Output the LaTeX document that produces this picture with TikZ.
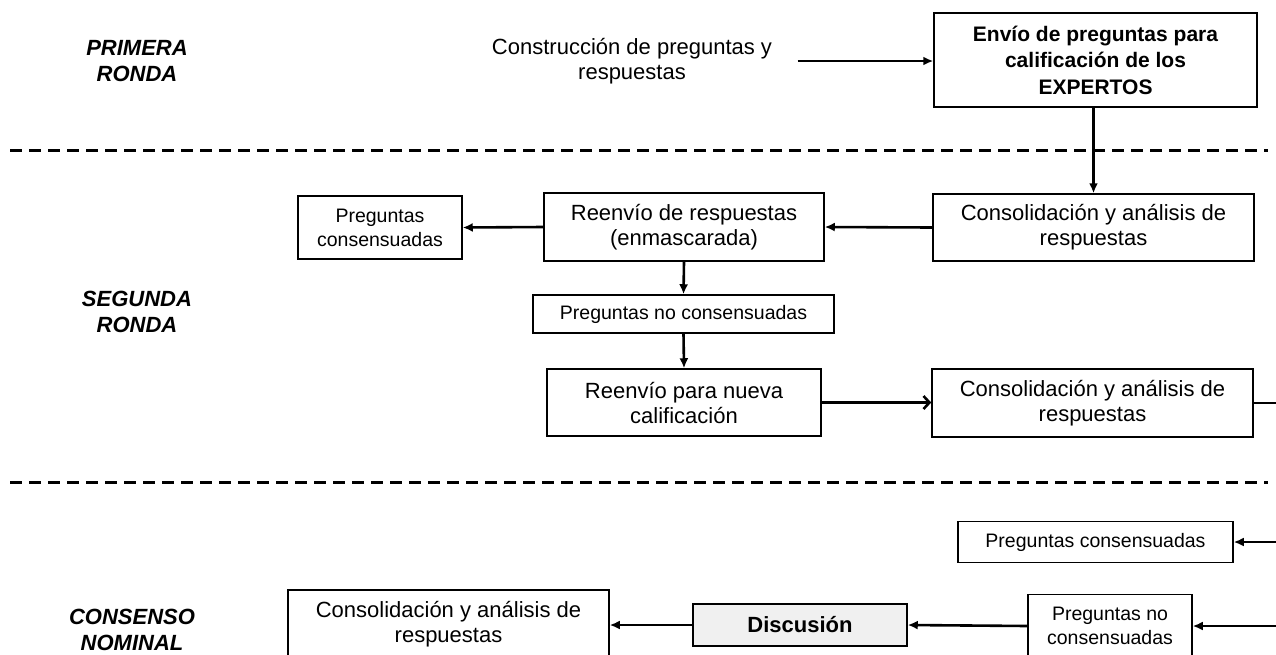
\documentclass[tikz,border=0pt]{standalone}
\usepackage{fontspec}
\setmainfont{Liberation Sans}
\usetikzlibrary{arrows.meta}

\begin{document}
\begin{tikzpicture}[x=1pt, y=-1pt,
    box/.style={draw, line width=1.5pt, align=center, inner sep=0pt, font=\fontsize{22}{25}\selectfont},
    smallbox/.style={box, font=\fontsize{19.5}{24}\selectfont},
    round/.style={align=center, font=\fontsize{22}{26}\selectfont\bfseries\itshape},
    arr/.style={line width=2.6pt, -{Latex[length=10pt, width=9pt]}},
    sep/.style={line width=3pt, dash pattern=on 12pt off 7pt}]
    \clip (0, 0) rectangle (1276, 654);

    \node[round] (r1) at (137, 61) {PRIMERA\\RONDA};
    \node[round] (r2) at (137, 312) {SEGUNDA\\RONDA};
    \node[round] (r3) at (132, 630) {CONSENSO\\NOMINAL};

    \draw[sep] (10, 150) -- (1268, 150);
    \draw[sep] (10, 482) -- (1268, 482);

    \node[align=center, font=\fontsize{22}{25}\selectfont] (constr) at (632, 61) {Construcción de preguntas y\\respuestas};
    \node[box, font=\fontsize{21}{26.5}\selectfont\bfseries, minimum width=323, minimum height=94] (envio) at (1095.5, 60) {Envío de preguntas para\\calificación de los\\EXPERTOS};

    \node[box, minimum width=321, minimum height=67] (cons1) at (1093.5, 227.5) {Consolidación y análisis de\\respuestas};
    \node[box, minimum width=280, minimum height=68] (reenv) at (684, 227) {Reenvío de respuestas\\(enmascarada)};
    \node[smallbox, minimum width=164, minimum height=63] (pcons) at (380, 227.5) {Preguntas\\consensuadas};
    \node[smallbox, minimum width=301, minimum height=38] (pnocons) at (683.5, 314) {Preguntas no consensuadas};
    \node[box, minimum width=274, minimum height=67] (reenv2) at (684, 402.5) {Reenvío para nueva\\calificación};
    \node[box, minimum width=321, minimum height=68] (cons2) at (1092.5, 403) {Consolidación y análisis de\\respuestas};

    \node[smallbox, minimum width=275, minimum height=41] (pcons2) at (1095.5, 542) {Preguntas consensuadas};
    \node[smallbox, minimum width=164, minimum height=63] (pnocons2) at (1110, 626) {Preguntas no\\consensuadas};
    \node[box, fill=gray!12, font=\fontsize{22}{25}\selectfont\bfseries, minimum width=214, minimum height=42] (disc) at (800, 625) {Discusión};
    \node[box, minimum width=321, minimum height=68] (cons3) at (448.5, 624) {Consolidación y análisis de\\respuestas};

    \coordinate (out1) at (1276, 403);
    \coordinate (in1) at (1276, 542);
    \coordinate (in2) at (1276, 626);

    \draw[arr] ([xshift=22pt]constr.east) -- (constr.east -| envio.west);
    \draw[arr] (cons1.north |- envio.south) -- (cons1.north);
    \draw[arr] (cons1.west) -- (reenv.east);
    \draw[arr] (reenv.west) -- (pcons.east);
    \draw[arr] (reenv.south) -- (pnocons.north);
    \draw[arr] (pnocons.south) -- (reenv2.north);
    \draw[arr, -{Straight Barb[length=6pt, width=13pt]}] (reenv2.east) -- (reenv2.east -| cons2.west);
    \draw[line width=2.6pt] (cons2.east) -- (out1);

    \draw[arr] (in1) -- (pcons2.east);
    \draw[arr] (in2) -- (pnocons2.east);
    \draw[arr] (pnocons2.west) -- (disc.west -| disc.east);
    \draw[arr] (disc.west) -- (cons3.east |- disc.west);

\end{tikzpicture}
\end{document}
